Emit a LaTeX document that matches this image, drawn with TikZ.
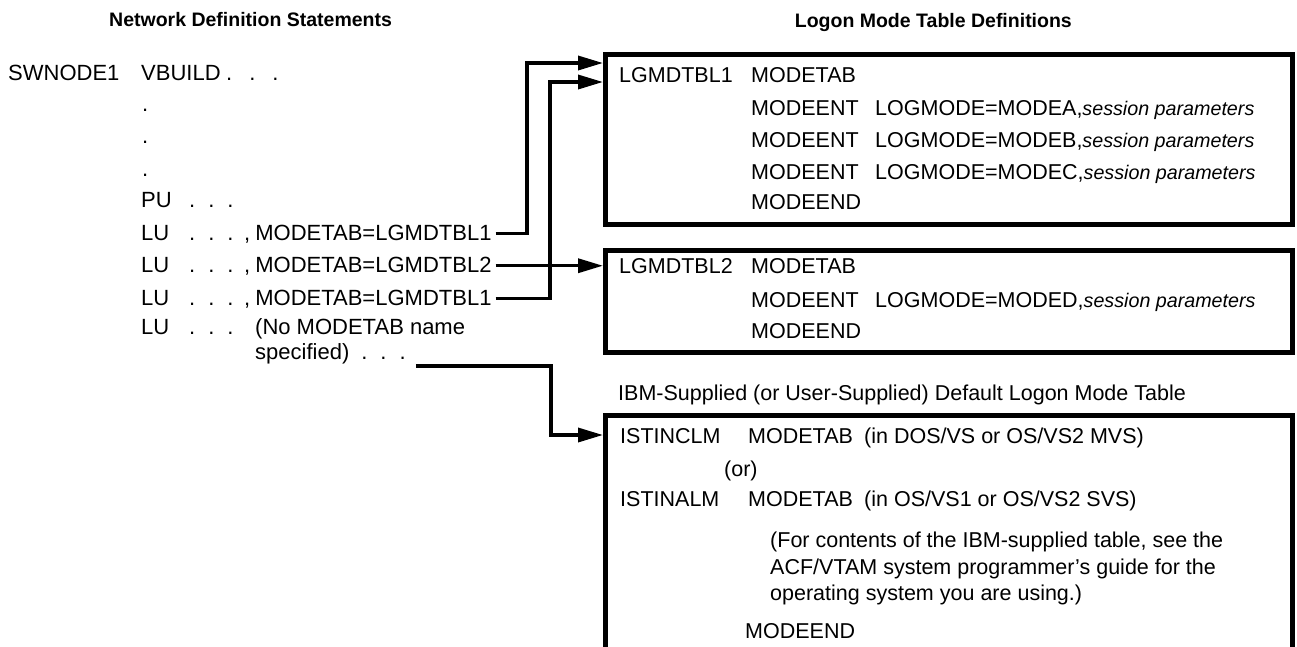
\documentclass[tikz,border=0pt]{standalone}
\usepackage{fontspec}
\setmainfont{Liberation Sans}
\usetikzlibrary{arrows.meta}
\newcommand\tdots{.\hspace{13pt}.\hspace{13pt}.}
\newcommand\sessp{{\fontsize{19.7}{24}\selectfont\itshape session parameters}}
\begin{document}
\begin{tikzpicture}[x=1pt,y=-1pt,
  lt/.style={anchor=base west,inner sep=0pt,font=\fontsize{22}{26}\selectfont},
  bt/.style={anchor=base west,inner sep=0pt,font=\fontsize{21.5}{25}\selectfont},
  hd/.style={anchor=base west,inner sep=0pt,font=\fontsize{19.5}{23}\selectfont\bfseries},
  tbox/.style={draw,line width=4.5pt,anchor=north west,inner sep=0pt,minimum width=687pt},
  conn/.style={line width=3.4pt,-{Triangle[length=25pt,width=14pt]}}]
\useasboundingbox (0,0) rectangle (1297,646);

% headings
\node[hd] (h1) at (109,26) {Network Definition Statements};
\node[hd,anchor=base east] (h2) at (1072,27) {Logon Mode Table Definitions};

% left column
\node[lt] (sw) at (8,80) {SWNODE1};
\node[lt] (vb) at (141,80) {VBUILD};
\node[lt] (vbd) at (226,80) {.\hspace{17pt}.\hspace{17pt}.};
\node[lt] (d1) at (142,111) {.};
\node[lt] (d2) at (142,143) {.};
\node[lt] (d3) at (142,176) {.};
\node[lt] (pu) at (141,207) {PU};
\node[lt] (pud) at (189,207) {\tdots};
\node[lt] (lu1) at (141,240) {LU};
\node[lt] (ld1) at (189,240) {\tdots};
\node[lt] (m1) at (244,240) {,\hspace{5pt}MODETAB=LGMDTBL1};
\node[lt] (lu2) at (141,272) {LU};
\node[lt] (ld2) at (189,272) {\tdots};
\node[lt] (m2) at (244,272) {,\hspace{5pt}MODETAB=LGMDTBL2};
\node[lt] (lu3) at (141,305) {LU};
\node[lt] (ld3) at (189,305) {\tdots};
\node[lt] (m3) at (244,305) {,\hspace{5pt}MODETAB=LGMDTBL1};
\node[lt] (lu4) at (141,334) {LU};
\node[lt] (ld4) at (189,334) {\tdots};
\node[lt] (nm) at (255,334) {(No MODETAB name};
\node[lt] (sp) at (255,359) {specified)\hspace{12pt}\tdots};

% boxes
\node[tbox,minimum height=170pt] (b1) at (603,52) {};
\node[tbox,minimum height=102pt] (b2) at (603,248) {};
\node[tbox,minimum height=250pt] (b3) at (603,413) {};

% box 1 text
\node[bt] (t1a) at (619,82) {LGMDTBL1};
\node[bt] (t1b) at (751,82) {MODETAB};
\node[bt] (t1c) at (751,115) {MODEENT};
\node[bt] (t1d) at (875,115) {LOGMODE=MODEA,\sessp};
\node[bt] (t1e) at (751,147) {MODEENT};
\node[bt] (t1f) at (875,147) {LOGMODE=MODEB,\sessp};
\node[bt] (t1g) at (751,179) {MODEENT};
\node[bt] (t1h) at (875,179) {LOGMODE=MODEC,\sessp};
\node[bt] (t1i) at (751,209) {MODEEND};

% box 2 text
\node[bt] (t2a) at (619,273) {LGMDTBL2};
\node[bt] (t2b) at (751,273) {MODETAB};
\node[bt] (t2c) at (751,307) {MODEENT};
\node[bt] (t2d) at (875,307) {LOGMODE=MODED,\sessp};
\node[bt] (t2e) at (751,338) {MODEEND};

% box 3
\node[bt] (t3l) at (618,400) {IBM-Supplied (or User-Supplied) Default Logon Mode Table};
\node[bt] (t3a) at (620,443) {ISTINCLM};
\node[bt] (t3b) at (748,443) {MODETAB};
\node[bt] (t3c) at (864,443) {(in DOS/VS or OS/VS2 MVS)};
\node[bt] (t3d) at (724,476) {(or)};
\node[bt] (t3e) at (620,506) {ISTINALM};
\node[bt] (t3f) at (748,506) {MODETAB};
\node[bt] (t3g) at (864,506) {(in OS/VS1 or OS/VS2 SVS)};
\node[bt] (t3h) at (770,547) {(For contents of the IBM-supplied table, see the};
\node[bt] (t3i) at (770,574) {ACF/VTAM system programmer’s guide for the};
\node[bt] (t3j) at (770,600) {operating system you are using.)};
\node[bt] (t3k) at (745,638) {MODEEND};

% connectors
\coordinate (k1) at (527,63);
\coordinate (k3) at (550,82);
\coordinate (k4) at (551,435);
\draw[conn] ([xshift=4pt]m1.east) -| (k1) -- (k1 -| b1.west);
\draw[conn] ([xshift=4pt]m2.east) -- (m2.east -| b2.west);
\draw[conn] ([xshift=4pt]m3.east) -| (k3) -- (k3 -| b1.west);
\draw[conn] ([xshift=10pt,yshift=-7pt]sp.base east) -| (k4) -- (k4 -| b3.west);
\end{tikzpicture}
\end{document}
